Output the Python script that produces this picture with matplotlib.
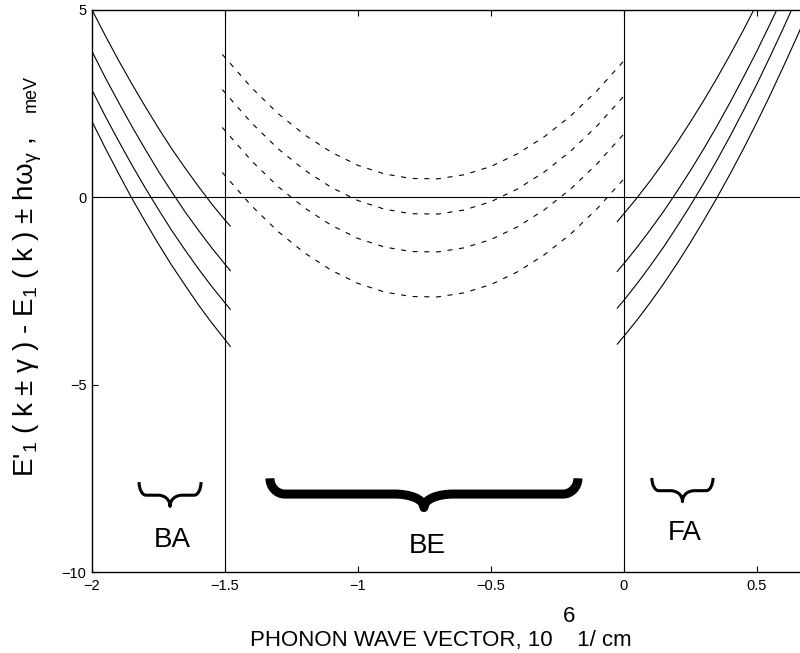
import matplotlib.pyplot as plt
from matplotlib.path import Path
from matplotlib.patches import PathPatch

plt.rcParams['font.family'] = 'Liberation Sans'
plt.rcParams['mathtext.fontset'] = 'custom'
plt.rcParams['mathtext.rm'] = 'Liberation Sans'
plt.rcParams['mathtext.it'] = 'Liberation Sans:italic'

# --- data (phonon wave vector in 1e6 1/cm, energy in meV) ---
# backward acoustic branch (solid, left panel)
ba_k = [-2.00, -1.95, -1.90, -1.85, -1.80, -1.75, -1.70, -1.65, -1.60, -1.55, -1.50, -1.48]
ba_1 = [5.00, 4.31, 3.65, 3.02, 2.42, 1.84, 1.29, 0.78, 0.29, -0.18, -0.61, -0.77]
ba_2 = [3.89, 3.19, 2.53, 1.89, 1.28, 0.69, 0.14, -0.39, -0.88, -1.35, -1.79, -1.96]
ba_3 = [2.86, 2.16, 1.50, 0.86, 0.25, -0.33, -0.89, -1.41, -1.91, -2.38, -2.82, -2.99]
ba_4 = [2.02, 1.31, 0.63, -0.03, -0.65, -1.25, -1.82, -2.35, -2.87, -3.35, -3.80, -3.98]

# backward emission branch (dashed, middle panel)
be_k = [-1.51, -1.40, -1.30, -1.20, -1.10, -1.00, -0.90, -0.80,
        -0.70, -0.60, -0.50, -0.40, -0.30, -0.20, -0.10, 0.00]
be_1 = [3.81, 2.92, 2.23, 1.66, 1.20, 0.85, 0.62, 0.50,
        0.49, 0.60, 0.82, 1.16, 1.61, 2.17, 2.85, 3.64]
be_2 = [2.87, 1.98, 1.29, 0.72, 0.26, -0.09, -0.32, -0.44,
        -0.45, -0.34, -0.12, 0.22, 0.67, 1.23, 1.91, 2.70]
be_3 = [1.86, 0.97, 0.28, -0.29, -0.75, -1.10, -1.33, -1.45,
        -1.46, -1.35, -1.13, -0.79, -0.34, 0.22, 0.90, 1.69]
be_4 = [0.66, -0.23, -0.92, -1.49, -1.95, -2.30, -2.53, -2.65,
        -2.66, -2.55, -2.33, -1.99, -1.54, -0.98, -0.30, 0.49]

# forward acoustic branch (solid, right panel)
fa_k = [-0.025, 0.00, 0.05, 0.10, 0.15, 0.20, 0.25, 0.30, 0.35,
        0.40, 0.45, 0.50, 0.55, 0.60, 0.65, 0.70]
fa_1 = [-0.65, -0.44, -0.01, 0.45, 0.94, 1.46, 2.01, 2.58, 3.18,
        3.81, 4.47, 5.16, 5.90, 6.70, 7.50, 8.30]
fa_2 = [-1.98, -1.77, -1.33, -0.86, -0.37, 0.16, 0.71, 1.29, 1.90,
        2.54, 3.21, 3.90, 4.63, 5.38, 6.15, 6.95]
fa_3 = [-2.96, -2.75, -2.30, -1.82, -1.32, -0.78, -0.22, 0.37, 0.99,
        1.64, 2.32, 3.02, 3.76, 4.52, 5.31, 6.12]
fa_4 = [-3.92, -3.71, -3.27, -2.80, -2.30, -1.77, -1.21, -0.62, -0.01,
        0.63, 1.30, 2.00, 2.73, 3.49, 4.27, 5.08]

region_names = ['BA', 'BE', 'FA']
region_label_xy = [(-1.70, -9.15), (-0.74, -9.30), (0.23, -8.95)]

x_ticks = [-2, -1.5, -1, -0.5, 0, 0.5]
x_ticklabels = ['\u22122', '\u22121.5', '\u22121', '\u22120.5', '0', '0.5']
y_ticks = [-10, -5, 0, 5]
y_ticklabels = ['\u221210', '\u22125', '0', '5']


def brace(ax, x0, x1, ytop, ybar, ytip, rx, rt, lw):
    # underbrace drawn as a bezier path in data coordinates
    xm = (x0 + x1) / 2
    dy = ytop - ybar
    dt = ybar - ytip
    verts = [(x0, ytop),
             (x0, ybar + 0.45 * dy), (x0 + 0.45 * rx, ybar), (x0 + rx, ybar),
             (xm - rt, ybar),
             (xm - 0.5 * rt, ybar), (xm, ybar - 0.35 * dt), (xm, ytip),
             (xm, ybar - 0.35 * dt), (xm + 0.5 * rt, ybar), (xm + rt, ybar),
             (x1 - rx, ybar),
             (x1 - 0.45 * rx, ybar), (x1, ybar + 0.45 * dy), (x1, ytop)]
    codes = ([Path.MOVETO] + [Path.CURVE4] * 3 + [Path.LINETO] + [Path.CURVE4] * 6
             + [Path.LINETO] + [Path.CURVE4] * 3)
    ax.add_patch(PathPatch(Path(verts, codes), fill=False, lw=lw, color='black',
                           capstyle='butt', joinstyle='round'))


fig = plt.figure(figsize=(8, 6.53), dpi=100)
ax = fig.add_axes([0.115, 0.124, 0.885, 0.861])

for ys in [ba_1, ba_2, ba_3, ba_4]:
    ax.plot(ba_k, ys, color='black', lw=0.8)
for ys in [be_1, be_2, be_3, be_4]:
    ax.plot(be_k, ys, color='black', lw=0.8, linestyle=(0, (4.5, 6)))
for ys in [fa_1, fa_2, fa_3, fa_4]:
    ax.plot(fa_k, ys, color='black', lw=0.8)

ax.axhline(0, color='black', lw=0.8)
ax.axvline(-1.5, color='black', lw=0.8)
ax.axvline(0, color='black', lw=0.8)

brace(ax, -1.823, -1.590, -7.60, -7.95, -8.25, 0.026, 0.045, 2.2)
brace(ax, -1.331, -0.173, -7.50, -7.92, -8.28, 0.056, 0.11, 6.5)
brace(ax, 0.105, 0.335, -7.49, -7.83, -8.12, 0.026, 0.045, 2.2)

for name, (tx, ty) in zip(region_names, region_label_xy):
    ax.text(tx, ty, name, fontsize=20, ha='center', va='center')

ax.set_xlim(-2, 0.662)
ax.set_ylim(-10, 5)
ax.set_xticks(x_ticks)
ax.set_xticklabels(x_ticklabels)
ax.set_yticks(y_ticks)
ax.set_yticklabels(y_ticklabels)
ax.tick_params(direction='in', length=4, width=0.8, labelsize=10.5, top=True, right=False)
ax.tick_params(axis='x', pad=5)
ax.tick_params(axis='y', pad=4)
ax.spines['right'].set_visible(False)
for s in ['left', 'bottom', 'top']:
    ax.spines[s].set_linewidth(1.0)

# axis titles
fig.text(28 / 800, 1 - 477 / 653,
         r"E'$_1$ ( k ± γ ) - E$_1$ ( k ) ± hω$_{\mathrm{\gamma}}$ ,",
         rotation=90, fontsize=20, ha='center', va='bottom')
fig.text(40 / 800, 1 - 112 / 653, 'meV', rotation=90, fontsize=13, ha='right', va='bottom')
fig.text(441 / 800, 1 - 646 / 653, 'PHONON WAVE VECTOR, 10    1/ cm',
         fontsize=16, ha='center', va='baseline')
fig.text(569 / 800, 1 - 616 / 653, '6', fontsize=16, ha='center', va='center')

fig.savefig('out.png', dpi=100)
